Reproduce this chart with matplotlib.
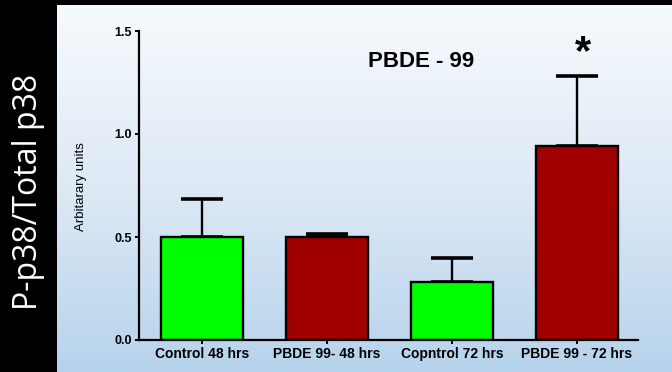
import numpy as np
import matplotlib.pyplot as plt
from matplotlib.colors import LinearSegmentedColormap

categories = ["Control 48 hrs", "PBDE 99- 48 hrs", "Copntrol 72 hrs", "PBDE 99 - 72 hrs"]
means = [0.50, 0.50, 0.28, 0.94]
sem = [0.185, 0.015, 0.12, 0.343]
bar_colors = ["#00ff00", "#a00000", "#00ff00", "#a00000"]
y_ticks = [0.0, 0.5, 1.0, 1.5]
y_tick_labels = ["0.0", "0.5", "1.0", "1.5"]

W, H = 672, 372
fig = plt.figure(figsize=(W / 100, H / 100), dpi=100)
fig.patch.set_facecolor("black")

# slide-style gradient panel
bg = fig.add_axes([57 / W, 0, 1 - 57 / W, 1 - 5 / H])
bg.set_axis_off()
cmap = LinearSegmentedColormap.from_list("panel", ["#f7fafd", "#dde9f5", "#b6d3ec"])
grad = np.linspace(0, 1, 256).reshape(-1, 1)
bg.imshow(grad, aspect="auto", cmap=cmap, extent=[0, 1, 0, 1], origin="upper")
bg.set_xlim(0, 1)
bg.set_ylim(0, 1)

fig.text(29 / W, 1 - 192 / H, "P-p38/Total p38", rotation=90, color="white",
         fontsize=23, family="Open Sans", ha="center", va="center")

ax = fig.add_axes([139 / W, 1 - 340 / H, (638 - 139) / W, (340 - 31) / H])
ax.patch.set_alpha(0)
x = np.arange(len(categories))
ax.bar(x, means, width=0.66, color=bar_colors, edgecolor="black", linewidth=1.7, zorder=2)
ax.errorbar(x, means, yerr=[np.zeros(len(sem)), sem], fmt="none", ecolor="black",
            elinewidth=1.7, capsize=15, capthick=2.6, zorder=1)

ax.set_xlim(-0.504, 3.488)
ax.set_ylim(0, 1.5)
ax.set_yticks(y_ticks)
ax.set_yticklabels(y_tick_labels, fontsize=9, fontweight="bold", family="Liberation Sans")
ax.set_xticks(x)
ax.set_xticklabels(categories, fontsize=10, fontweight="bold", family="Liberation Sans")
ax.tick_params(axis="both", direction="out", length=3, width=1.4, pad=2)
for s in ["top", "right"]:
    ax.spines[s].set_visible(False)
for s in ["left", "bottom"]:
    ax.spines[s].set_linewidth(1.6)

fig.text(81 / W, 1 - 187 / H, "Arbitarary units", rotation=90, fontsize=9.5,
         family="Liberation Sans", ha="center", va="center")

ax.text(1.75, 1.35, "PBDE - 99", fontsize=16, fontweight="bold",
        family="Liberation Sans", ha="center", va="center")
ax.text(3.05, means[3] + sem[3] + 0.11, "*", fontsize=30, fontweight="bold",
        ha="center", va="center", family="Liberation Sans")

fig.savefig("out.png", dpi=100, facecolor=fig.get_facecolor())
